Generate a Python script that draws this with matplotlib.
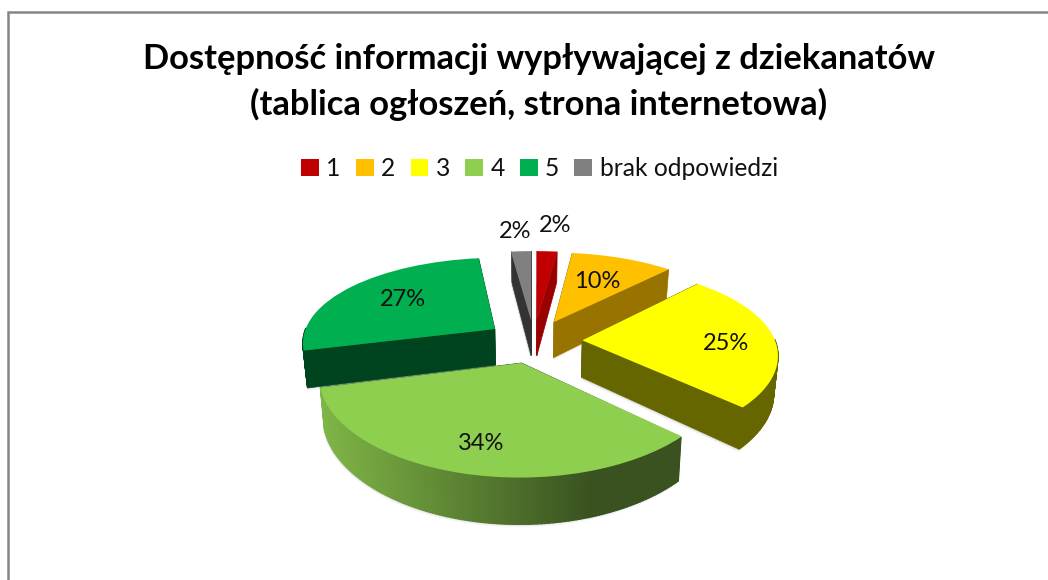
import numpy as np
import matplotlib
matplotlib.use("Agg")
from matplotlib import pyplot as plt
from matplotlib.colors import to_rgb
from matplotlib.transforms import Transform

plt.rcParams['font.family'] = ['Lato', 'DejaVu Sans']

title = "Dostępność informacji wypływającej z dziekanatów\n(tablica ogłoszeń, strona internetowa)"
categories = ['1', '2', '3', '4', '5', 'brak odpowiedzi']
shares = [2, 10, 25, 34, 27, 2]
colors = ['#C00000', '#FFC000', '#FFFF00', '#8FCF50', '#00B050', '#808080']
wall_left = ['#990000', '#997300', '#666600', '#80B747', '#00431F', '#333333']
wall_right = ['#990000', '#997300', '#666600', '#3A5220', '#00431F', '#333333']
label_xy = [(555, 226), (597, 282), (726, 343), (481, 443), (403, 299), (515, 231)]

# pie centre and tilt in pixels
CX, CY = 534, 341
AX_R, AY_R = 193, 87
PERSP_X, PERSP_Y = 0.14, 0.168
DEPTH = 37
NARROW = 0.018
EXPLODE = 0.25


def project(x, y, z=0):
    y = np.asarray(y)
    sx = 1 / (1 + PERSP_X * y)
    sy = 1 / (1 + PERSP_Y * y)
    return CX + AX_R * np.asarray(x) * sx * (1 - NARROW * np.asarray(z)), CY + (-AY_R * y + DEPTH * z) * sy


class Tilt(Transform):
    input_dims = output_dims = 2

    def transform_non_affine(self, values):
        px, py = project(values[:, 0], values[:, 1])
        return np.column_stack([px, py])


fig = plt.figure(figsize=(10.48, 5.8), dpi=100)
ax = fig.add_axes([0, 0, 1, 1])

wedges, _, autotexts = ax.pie(shares, colors=colors, explode=[EXPLODE] * len(shares), startangle=90,
                              counterclock=False, autopct='%d%%')
ax.set_aspect('auto')
ax.set_xlim(0, 1048)
ax.set_ylim(580, 0)
ax.axis('off')

tilt = Tilt() + ax.transData

# far slices first so the near ones cover them
order = sorted(range(len(shares)), key=lambda i: -wedges[i].center[1])
z = 2
for i in order:
    w = wedges[i]
    cx, cy = w.center
    th = np.radians(np.arange(w.theta1, w.theta2 + 0.5, 1.0))
    ex, ey = cx + np.cos(th), cy + np.sin(th)

    # soft shadow under the slice
    bx, by = project(np.r_[cx, ex], np.r_[cy, ey], 1)
    for off, alpha in [(3, 0.05), (2, 0.08), (1, 0.12)]:
        ax.fill(bx - 1, by + off, color='#808080', alpha=alpha, lw=0, zorder=z)
    z += 1

    left, right = np.array(to_rgb(wall_left[i])), np.array(to_rgb(wall_right[i]))

    # straight walls from the tip to both arc ends
    ends = sorted([(ex[0], ey[0]), (ex[-1], ey[-1])], key=lambda p: -p[1])
    for px, py in ends:
        tx, ty = project([cx, px, px, cx], [cy, py, py, cy], np.array([0, 0, 1, 1]))
        ax.fill(tx, ty, color=wall_left[i] if i != 3 else wall_right[i], lw=0.5, zorder=z)
        z += 1

    # outer wall, one strip per degree for the shading; the back of the arc is hidden
    x0, x1 = project(ex, ey)[0].min(), project(ex, ey)[0].max()
    for k in range(len(th) - 1):
        if np.sin(th[k]) > 0 and np.sin(th[k + 1]) > 0:
            continue
        qx, qy = project(ex[[k, k + 1, k + 1, k]], ey[[k, k + 1, k + 1, k]], np.array([0, 0, 1, 1]))
        f = (qx.mean() - x0) / max(x1 - x0, 1)
        f = min(f / 0.75, 1)
        ax.fill(qx, qy, color=left + (right - left) * f, lw=1.0, zorder=z)
    z += 1

    w.set_transform(tilt)
    w.set_zorder(z)
    w.set_linewidth(0)
    z += 1

for t, (lx, ly) in zip(autotexts, label_xy):
    t.set_position((lx, ly))
    t.set_ha('center')
    t.set_va('center')
    t.set_fontsize(17)
    t.set_color('#111111')
    t.set_zorder(z)

ax.text(539, 82, title, ha='center', va='center', fontsize=24.8, fontweight='bold', color='black',
        linespacing=1.45)

# frame of the chart area, only top and left are in the picture
ax.plot([8, 8, 1048], [580, 12, 12], color='#868686', lw=1.8, solid_joinstyle='miter', zorder=1)

fig.legend(wedges, categories, ncol=6, frameon=False, loc='center', bbox_to_anchor=(539.5 / 1048, 1 - 168.5 / 580),
           fontsize=17.7, handlelength=0.72, handleheight=0.7, handletextpad=0.3, columnspacing=0.62,
           labelcolor='#111111', borderpad=0, borderaxespad=0)

fig.savefig('out.png', dpi=100)
